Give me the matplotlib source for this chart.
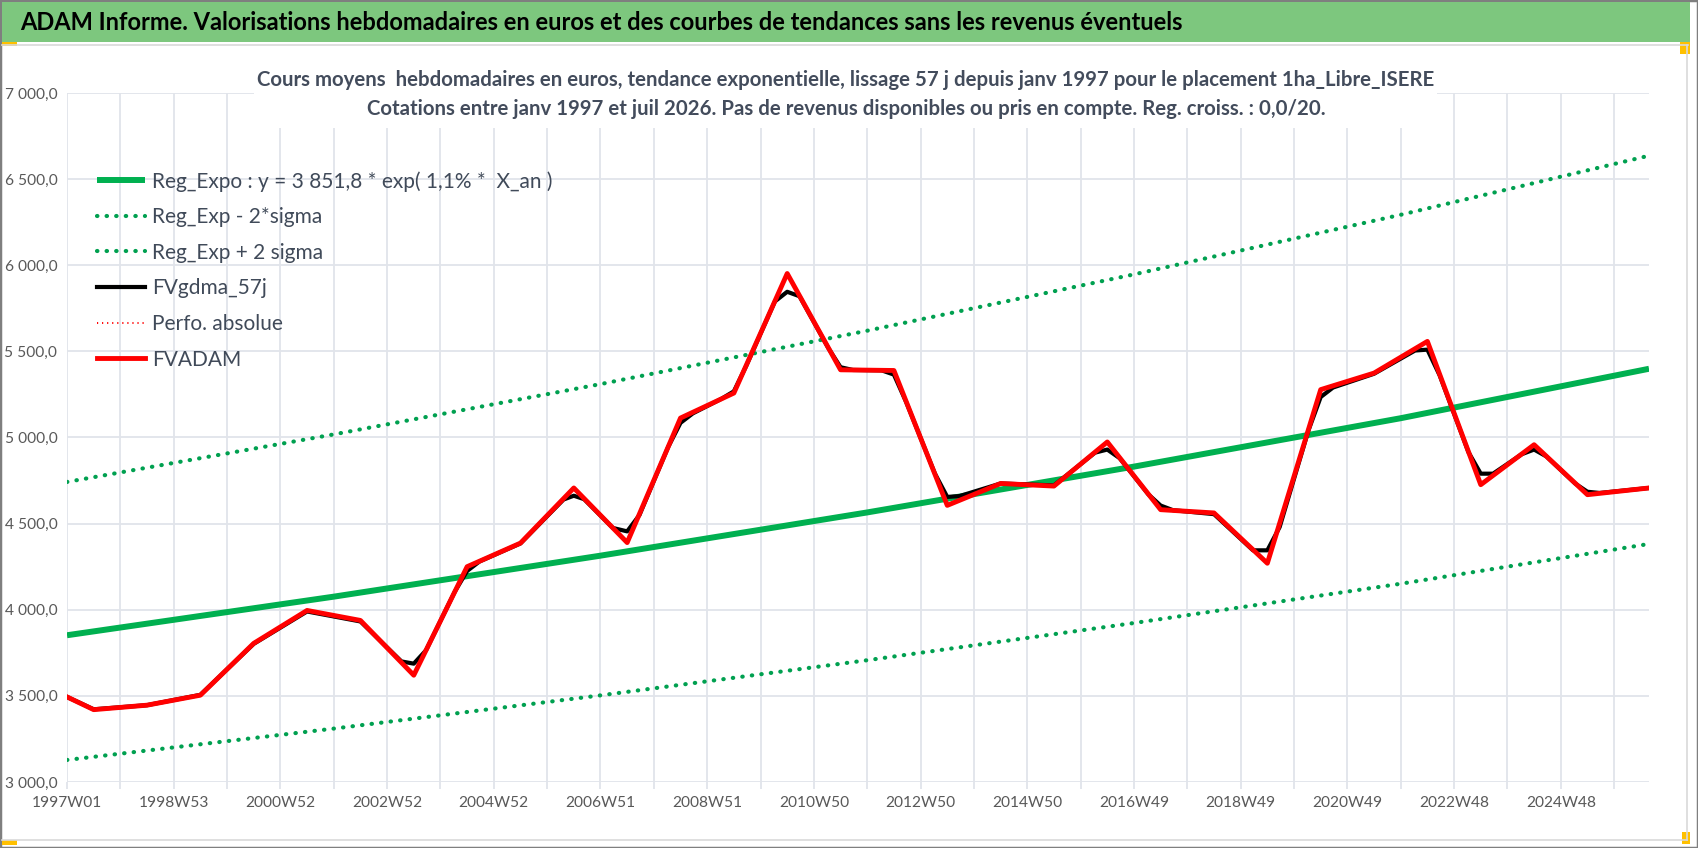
import matplotlib
matplotlib.use("Agg")
import matplotlib.pyplot as plt
from matplotlib.lines import Line2D
from matplotlib.patches import Rectangle

plt.rcParams['font.family'] = ['Lato', 'DejaVu Sans']

# week index (0 = 1997W01) of the points
week_idx = [0, 26, 78, 130, 182, 234, 286, 338, 390, 442, 494, 546, 598, 650, 702, 754,
            806, 858, 910, 962, 1014, 1066, 1118, 1170, 1222, 1274, 1326, 1378, 1430, 1482, 1542]
fvadam = [3494, 3420, 3446, 3504, 3805, 3996, 3938, 3620, 4250, 4387, 4707, 4390, 5113, 5258,
          5952, 5393, 5389, 4606, 4733, 4718, 4974, 4581, 4562, 4270, 5278, 5374, 5558, 4726,
          4958, 4668, 4707]

# smoothed curve: rounds the corners of FVADAM
gdma_idx = [0, 26, 78, 130, 182, 234, 286, 326, 338, 350, 378, 390, 402, 442, 484, 494, 504,
            532, 546, 558, 586, 598, 610, 638, 650, 662, 690, 702, 714, 742, 754, 766, 794, 806,
            818, 846, 858, 870, 910, 962, 1002, 1014, 1026, 1054, 1066, 1078, 1118, 1156, 1170,
            1182, 1210, 1222, 1234, 1274, 1314, 1326, 1338, 1366, 1378, 1390, 1418, 1430, 1442,
            1470, 1482, 1494, 1542]
fvgdma_57j = [3494, 3422, 3446, 3506, 3802, 3990, 3932, 3700, 3687, 3765, 4105, 4225, 4280, 4385,
              4640, 4662, 4642, 4475, 4455, 4550, 4945, 5085, 5140, 5225, 5268, 5415, 5790, 5846,
              5820, 5520, 5408, 5392, 5390, 5365, 5205, 4790, 4655, 4660, 4733, 4722, 4912, 4930,
              4880, 4670, 4605, 4578, 4555, 4345, 4345, 4480, 5040, 5235, 5290, 5370, 5505, 5510,
              5360, 4915, 4790, 4790, 4903, 4930, 4890, 4733, 4685, 4678, 4707]

trend_idx = [0, 260, 520, 780, 1040, 1300, 1542]
reg_expo = [3852, 4076, 4314, 4565, 4831, 5112, 5399]
reg_minus = [3128, 3310, 3503, 3707, 3923, 4151, 4382]
reg_plus = [4742, 5018, 5310, 5620, 5947, 6293, 6636]

x_labels = ['1997W01', '1998W53', '2000W52', '2002W52', '2004W52', '2006W51', '2008W51',
            '2010W50', '2012W50', '2014W50', '2016W49', '2018W49', '2020W49', '2022W48', '2024W48']
y_values = [3000, 3500, 4000, 4500, 5000, 5500, 6000, 6500, 7000]
y_labels = ['3 000,0', '3 500,0', '4 000,0', '4 500,0', '5 000,0', '5 500,0', '6 000,0',
            '6 500,0', '7 000,0']

title = "ADAM Informe. Valorisations hebdomadaires en euros et des courbes de tendances sans les revenus éventuels"
sub1 = "Cours moyens  hebdomadaires en euros, tendance exponentielle, lissage 57 j depuis janv 1997 pour le placement 1ha_Libre_ISERE"
sub2 = "Cotations entre janv 1997 et juil 2026. Pas de revenus disponibles ou pris en compte. Reg. croiss. : 0,0/20."
leg_first = 'Reg_Expo : y = 3 851,8 * exp( 1,1% *  X_an )'

W, H = 1698, 848
fig = plt.figure(figsize=(W / 100, H / 100), dpi=100)
fig.patch.set_facecolor('white')
renderer = fig.canvas.get_renderer()


def fx(px):
    return px / W


def fy(py):
    return 1 - py / H


def fit_size(s, target_px, weight='normal'):
    # font size (pt) so that the text is target_px wide
    t = fig.text(0, 0, s, fontsize=20, fontweight=weight)
    w = t.get_window_extent(renderer).width
    t.remove()
    return 20 * target_px / w


# frame, green banner, selection handles
fig.patches.append(Rectangle((0, 0), 1, 1, transform=fig.transFigure, fill=False,
                             edgecolor='#7f7f7f', lw=2.5))
fig.patches.append(Rectangle((fx(2), fy(42)), fx(1688), 40 / H, transform=fig.transFigure,
                             facecolor='#7dc77e', edgecolor='none'))
fig.add_artist(Line2D([fx(2), fx(1688)], [fy(45), fy(45)], transform=fig.transFigure,
                      color='#d9d9d9', lw=1.2))
fig.add_artist(Line2D([fx(1687), fx(1687)], [fy(45), fy(840)], transform=fig.transFigure,
                      color='#d9d9d9', lw=1.2))
fig.add_artist(Line2D([fx(2), fx(1687)], [fy(840), fy(840)], transform=fig.transFigure,
                      color='#d9d9d9', lw=1.2))
for (x0, y0, w, h) in [(2, 42, 15, 4), (1680, 42, 10, 12), (2, 840, 15, 5), (1682, 832, 8, 12)]:
    fig.patches.append(Rectangle((fx(x0), fy(y0 + h)), w / W, h / H, transform=fig.transFigure,
                                 facecolor='#ffc000', edgecolor='none'))

fig.text(fx(20), fy(22), title, ha='left', va='center',
         fontsize=fit_size(title, 1165, 'bold'), fontweight='bold', color='black')

left, right, top, bottom = 67, 1649, 93, 782
ax = fig.add_axes([fx(left), fy(bottom), (right - left) / W, (bottom - top) / H])

grid_c = '#e1e4ea'
ax.plot(trend_idx, reg_minus, color='#00a050', lw=3.0, ls=(0, (0.1, 2.2)),
        dash_capstyle='round', label='Reg_Exp - 2*sigma', zorder=3)
ax.plot(trend_idx, reg_plus, color='#00a050', lw=3.0, ls=(0, (0.1, 2.2)),
        dash_capstyle='round', label='Reg_Exp + 2 sigma', zorder=3)
ax.plot(trend_idx, reg_expo, color='#00b050', lw=4.3, solid_capstyle='butt',
        label=leg_first, zorder=4)
ax.plot(gdma_idx, fvgdma_57j, color='black', lw=3.0, label='FVgdma_57j', zorder=5)
ax.plot([], [], color='#ff0000', lw=1.4, ls=(0, (0.6, 2.0)), label='Perfo. absolue')
ax.plot(week_idx, fvadam, color='#ff0000', lw=3.5, label='FVADAM', zorder=6)

ax.set_xlim(0, 1542)
ax.set_ylim(3000, 7000)

ticks = list(range(0, 1509, 52))
tick_lbls = []
for i in range(len(ticks)):
    tick_lbls.append(x_labels[i // 2] if i % 2 == 0 else '')
ax.set_xticks(ticks)
ax.set_xticklabels(tick_lbls)
ax.set_yticks(y_values)
ax.set_yticklabels(y_labels)

tick_fs = fit_size('1997W01', 70)
ax.grid(True, color=grid_c, lw=1.3, zorder=0)
ax.set_axisbelow(True)
for s in ax.spines.values():
    s.set_visible(False)
ax.tick_params(axis='x', length=5, width=1.3, color=grid_c, labelsize=tick_fs,
               labelcolor='#595959', pad=5)
ax.tick_params(axis='y', length=0, labelsize=tick_fs, labelcolor='#595959', pad=7)

leg_fs = fit_size(leg_first, 402)
em = leg_fs * 100 / 72
handles, labels = ax.get_legend_handles_labels()
order = [2, 0, 1, 3, 4, 5]
leg = ax.legend([handles[i] for i in order], [labels[i] for i in order],
                loc='upper left', bbox_to_anchor=(fx(97), fy(180 - 0.43 * em)),
                bbox_transform=fig.transFigure, frameon=False, fontsize=leg_fs,
                handlelength=48 / em, handletextpad=7 / em,
                labelspacing=(33.4 - 0.85 * em) / em, borderaxespad=0, borderpad=0)
for t in leg.get_texts():
    t.set_color('#404a59')

# white box behind the chart title
fig.patches.append(Rectangle((fx(254), fy(128)), (1437 - 254) / W, 70 / H,
                             transform=fig.transFigure, facecolor='white', edgecolor='none',
                             zorder=9))
fig.text(fx(846), fy(80), sub1, ha='center', va='center', fontsize=fit_size(sub1, 1180, 'bold'),
         fontweight='bold', color='#434c5c', zorder=10)
fig.text(fx(846), fy(109), sub2, ha='center', va='center', fontsize=fit_size(sub2, 960, 'bold'),
         fontweight='bold', color='#434c5c', zorder=10)

fig.savefig('out.png', dpi=100)
